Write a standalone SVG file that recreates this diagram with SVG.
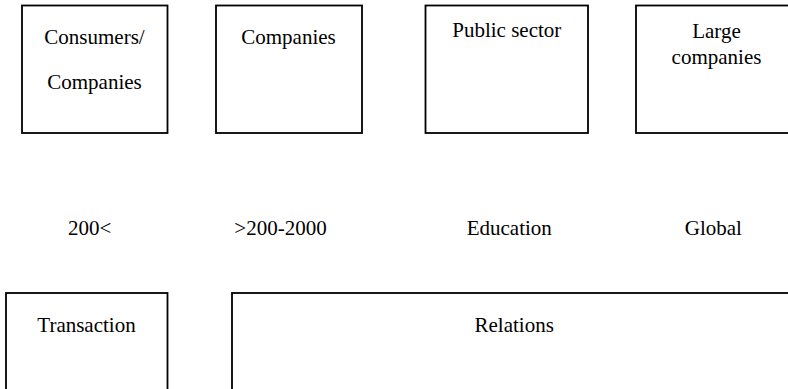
<svg xmlns="http://www.w3.org/2000/svg" width="788" height="389" viewBox="0 0 788 389">
<style>
.box{fill:#fff;stroke:#000;stroke-width:1.8}
</style>
<rect x="0" y="0" width="788" height="389" fill="#fff"/>
<g font-family="Liberation Serif, Times New Roman, DejaVu Serif, serif" font-size="21" fill="#000" text-anchor="middle">
<g id="consumers">
<rect class="box" x="22" y="5.5" width="145.5" height="127.5"/>
<text x="94.5" y="44.3">Consumers/</text>
<text x="94.5" y="89.3">Companies</text>
</g>
<g id="companies">
<rect class="box" x="216" y="5.5" width="146" height="127.5"/>
<text x="288.5" y="44.3">Companies</text>
</g>
<g id="public">
<rect class="box" x="425.5" y="5.5" width="162.5" height="127.5"/>
<text x="506.8" y="36.7">Public sector</text>
</g>
<g id="large">
<rect class="box" x="636" y="5.5" width="161" height="127.5"/>
<text x="716.5" y="37.7">Large</text>
<text x="716.5" y="64">companies</text>
</g>
<g id="size-labels">
<text x="89.7" y="235">200&lt;</text>
<text x="280.5" y="235">&gt;200-2000</text>
<text x="509.3" y="235">Education</text>
<text x="713.3" y="235">Global</text>
</g>
<g id="transaction">
<rect class="box" x="6" y="293" width="161.5" height="110"/>
<text x="86.5" y="331.7">Transaction</text>
</g>
<g id="relations">
<rect class="box" x="232" y="293" width="565" height="110"/>
<text x="514.2" y="331.7">Relations</text>
</g>
</g>
<g id="connectors"/>
</svg>
